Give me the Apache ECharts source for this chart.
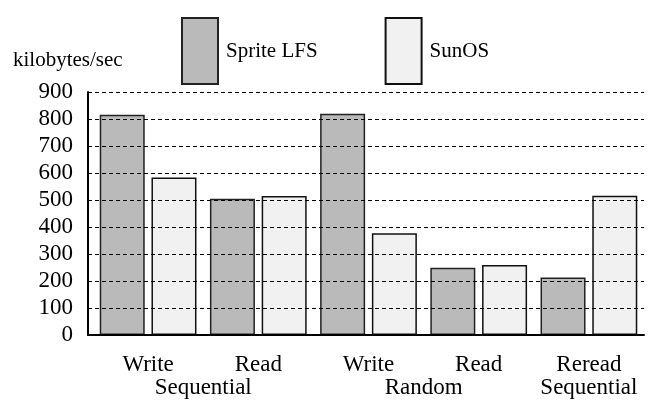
<!DOCTYPE html>
<html><head><meta charset="utf-8">
<script src="https://cdn.jsdelivr.net/npm/echarts@6/dist/echarts.min.js"></script>
<style>html,body{margin:0;padding:0;background:#fff}#c{width:652px;height:400px}</style>
</head><body><div id="c"></div>
<script>
const categories = ['Write', 'Read', 'Write', 'Read', 'Reread'];
const groupLabels = ['', '', 'Sequential', '', '', '', 'Random', '', '', 'Sequential', ''];
const spriteLFS = [816, 505, 819, 249, 213];
const sunOS = [583, 515, 377, 259, 516];
const seriesNames = ['Sprite LFS', 'SunOS'];
const yMin = 0, yMax = 900, yInterval = 100;
const unitLabel = 'kilobytes/sec';

const FONT = '"Liberation Serif", "Times New Roman", serif';
const chart = echarts.init(document.getElementById('c'), null, {renderer: 'canvas'});
chart.setOption({
  animation: false,
  backgroundColor: '#fff',
  title: {text: unitLabel, left: 8, top: 45,
    textStyle: {fontSize: 21, fontWeight: 'normal', color: '#000', fontFamily: FONT}},
  legend: {left: 176, top: 12, itemWidth: 36, itemHeight: 66, itemGap: 67, icon: 'rect',
    textStyle: {fontSize: 21, color: '#000', fontFamily: FONT, padding: [0, 0, 18, 3]},
    data: seriesNames},
  grid: [
    {left: 88, right: 8, top: 92, bottom: 65},
    {left: 93, right: 8, top: 92, bottom: 65}
  ],
  xAxis: [
    {gridIndex: 1, type: 'category', position: 'bottom', data: categories,
      axisLine: {show: false}, axisTick: {show: false},
      axisLabel: {fontSize: 23, color: '#000', fontFamily: FONT, margin: 18, interval: 0}},
    {gridIndex: 1, type: 'category', position: 'bottom', boundaryGap: false, data: groupLabels,
      axisLine: {show: false}, axisTick: {show: false}, splitLine: {show: false},
      axisLabel: {fontSize: 23, color: '#000', fontFamily: FONT, margin: 41, interval: 0}},
    {gridIndex: 0, type: 'value', position: 'bottom', min: 0, max: 1, z: 4,
      axisLine: {show: true, lineStyle: {color: '#000', width: 2}},
      axisTick: {show: false}, axisLabel: {show: false}, splitLine: {show: false}}
  ],
  yAxis: [
    {gridIndex: 0, type: 'value', min: yMin, max: yMax, interval: yInterval, z: 4,
      axisLine: {show: true, lineStyle: {color: '#000', width: 2}},
      axisTick: {show: false},
      axisLabel: {fontSize: 23, color: '#000', fontFamily: FONT, margin: 15},
      splitLine: {show: true, lineStyle: {color: '#000', width: 1, type: [4, 3]}}},
    {gridIndex: 1, type: 'value', min: yMin, max: yMax, interval: yInterval, show: false,
      splitLine: {show: false}}
  ],
  series: [
    {name: seriesNames[0], type: 'bar', xAxisIndex: 0, yAxisIndex: 1, data: spriteLFS,
      barWidth: 45, barGap: '15%',
      itemStyle: {color: '#bababa', borderColor: '#222', borderWidth: 1.5}},
    {name: seriesNames[1], type: 'bar', xAxisIndex: 0, yAxisIndex: 1, data: sunOS,
      barWidth: 45, barGap: '15%',
      itemStyle: {color: '#f1f1f1', borderColor: '#111', borderWidth: 1.5}}
  ]
});
</script></body></html>
